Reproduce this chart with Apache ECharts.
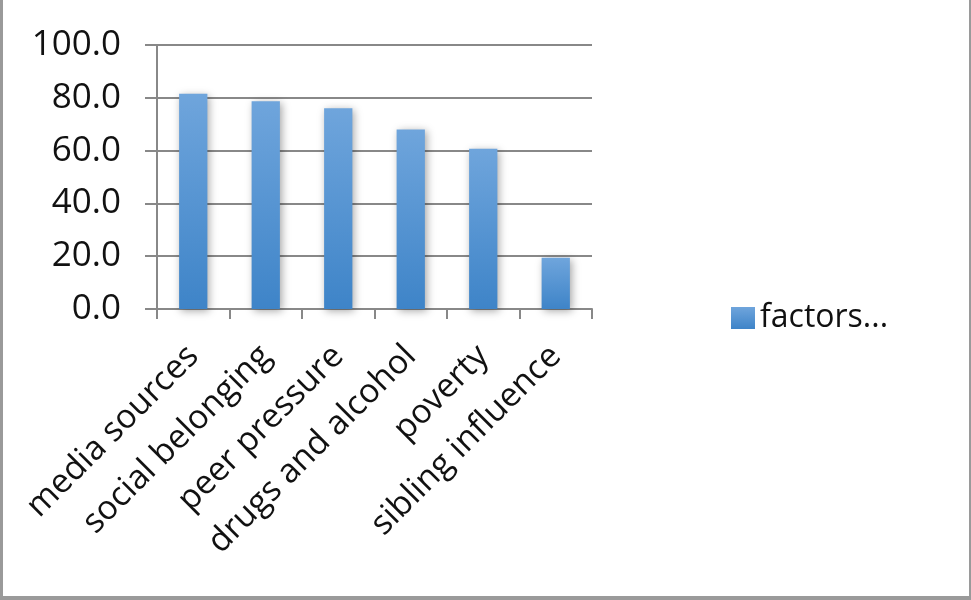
<!DOCTYPE html>
<html><head><meta charset="utf-8">
<script src="https://cdn.jsdelivr.net/npm/echarts@6/dist/echarts.min.js"></script>
<style>
html,body{margin:0;padding:0;background:#fff;}
#c{position:absolute;left:0;top:0;width:966px;height:596px;border-left:3px solid #9a9a9a;border-right:2px solid #9a9a9a;border-bottom:4px solid #9a9a9a;}
</style></head>
<body><div id="c"></div>
<script>
const categories = ["media sources","social belonging","peer pressure","drugs and alcohol","poverty","sibling influence"];
const values = [81.5, 78.7, 76.0, 68.0, 60.7, 19.4];
const seriesName = "factors...";
const yMin = 0, yMax = 100, yStep = 20;

const chart = echarts.init(document.getElementById('c'));
const font = '"Open Sans", sans-serif';
chart.setOption({
  animation:false,
  grid:{left:154, right:377, top:45, bottom:287, containLabel:false},
  legend:{data:[seriesName], left:723, top:297, itemWidth:24, itemHeight:22, itemGap:8,
    textStyle:{fontFamily:font, fontSize:32, color:'#111'}, icon:'rect'},
  xAxis:{type:'category', data:categories,
    axisLine:{lineStyle:{color:'#888', width:2}},
    axisTick:{show:true, length:10, alignWithLabel:false, lineStyle:{color:'#888', width:2}},
    axisLabel:{rotate:45, interval:0, margin:42, fontFamily:font, fontSize:33.5, color:'#111'}},
  yAxis:{type:'value', min:yMin, max:yMax, interval:yStep,
    axisLine:{show:true, lineStyle:{color:'#888', width:2}},
    axisTick:{show:true, length:12, lineStyle:{color:'#888', width:2}},
    splitLine:{lineStyle:{color:'#888', width:2}},
    axisLabel:{margin:36, fontFamily:font, fontSize:35, color:'#111', formatter:v=>v.toFixed(1)}},
  series:[{name:seriesName, type:'bar', data:values, barWidth:'39%',
    itemStyle:{color:new echarts.graphic.LinearGradient(0,0,0,1,[{offset:0,color:'#6fa5dc'},{offset:1,color:'#3e84c8'}]),
      shadowBlur:8, shadowColor:'rgba(0,0,0,0.35)', shadowOffsetX:2, shadowOffsetY:2}}]
});
</script></body></html>
